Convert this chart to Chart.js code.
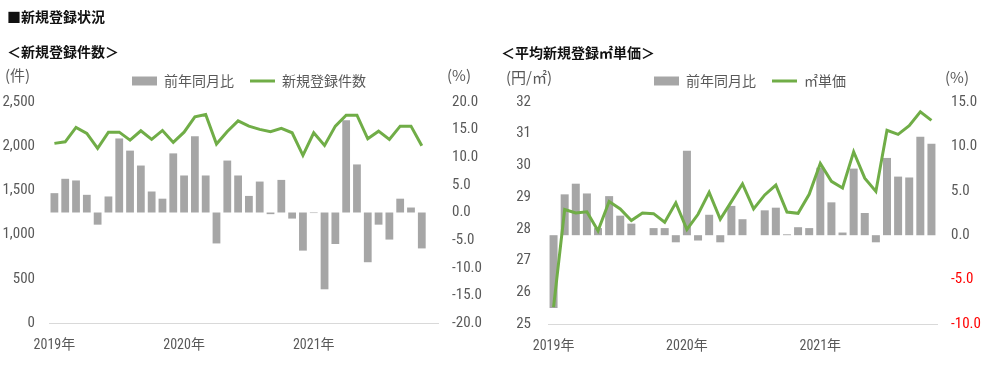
<!DOCTYPE html>
<html lang="ja">
<head>
<meta charset="utf-8">
<title>新規登録状況</title>
<script src="https://cdn.jsdelivr.net/npm/chart.js@4.4.1/dist/chart.umd.min.js"></script>
<style>
  html, body { margin: 0; padding: 0; background: #fff; }
  body {
    position: relative;
    width: 989px;
    height: 366px;
    overflow: hidden;
    font-family: 'Noto Sans CJK JP', sans-serif;
  }
  canvas { position: absolute; top: 0; }
  #countChart { left: 0; }
  #priceChart { left: 495px; }
  .txt { position: absolute; white-space: nowrap; line-height: 18px; z-index: 2; }
  .head { font-size: 14px; font-weight: bold; color: #111; }
  .unit { font-size: 15px; color: #595959; }
</style>
</head>
<body>
<div class="txt head" style="left:7px; top:7px;">■新規登録状況</div>
<div class="txt head" style="left:7px; top:42px;">＜新規登録件数＞</div>
<div class="txt head" style="left:501px; top:43px;">＜平均新規登録㎡単価＞</div>
<div class="txt unit" style="left:5px; top:66px;">(件)</div>
<div class="txt unit" style="left:447px; top:66px;">(%)</div>
<div class="txt unit" style="left:506px; top:68px;">(円/㎡)</div>
<div class="txt unit" style="left:945px; top:68px;">(%)</div>

<canvas id="countChart" width="498" height="366"></canvas>
<canvas id="priceChart" width="510" height="366"></canvas>

<script>
// months, Jan 2019 - Dec 2021 (the price chart stops at Nov 2021)
const months = [
    '2019/01', '2019/02', '2019/03', '2019/04', '2019/05', '2019/06',
    '2019/07', '2019/08', '2019/09', '2019/10', '2019/11', '2019/12',
    '2020/01', '2020/02', '2020/03', '2020/04', '2020/05', '2020/06',
    '2020/07', '2020/08', '2020/09', '2020/10', '2020/11', '2020/12',
    '2021/01', '2021/02', '2021/03', '2021/04', '2021/05', '2021/06',
    '2021/07', '2021/08', '2021/09', '2021/10', '2021/11', '2021/12',
];
const priceMonths = months.slice(0, 35);

// 新規登録件数 (件)
const countTotal = [
    2032, 2050, 2212, 2144, 1975, 2159, 2159, 2069, 2174, 2077, 2178, 2043,
    2159, 2332, 2359, 2024, 2167, 2287, 2227, 2190, 2163, 2201, 2152, 1896,
    2152, 2009, 2227, 2351, 2351, 2084, 2170, 2077, 2227, 2227, 2005, null,
];
// 前年同月比 (%)
const countYoY = [
    3.5, 6.1, 5.8, 3.2, -2.2, 2.9, 13.4, 11.2, 8.5, 3.8, 2.5, 10.7,
    6.7, 13.8, 6.7, -5.6, 9.4, 6.7, 3.0, 5.6, -0.3, 5.9, -1.1, -6.9,
    -0.1, -13.9, -5.7, 16.7, 8.7, -9.0, -2.2, -4.9, 2.5, 0.9, -6.5, null,
];

// 平均新規登録㎡単価 (円/㎡)
const unitPrice = [
    25.53, 28.61, 28.50, 28.54, 27.94, 28.86, 28.63, 28.26, 28.50, 28.48, 28.21, 28.82,
    27.98, 28.46, 29.15, 28.30, 28.86, 29.42, 28.63, 29.07, 29.38, 28.53, 28.49, 29.09,
    30.06, 29.50, 29.29, 30.43, 29.60, 29.18, 31.11, 30.98, 31.25, 31.69, 31.42,
];
// 前年同月比 (%)
const priceYoY = [
    -8.2, 4.6, 5.8, 4.7, 0.8, 4.4, 2.2, 1.3, 0, 0.8, 0.8, -0.8,
    9.5, -0.6, 2.3, -0.8, 3.3, 1.8, 0, 2.8, 3.1, 0.1, 0.9, 0.8,
    7.6, 3.7, 0.3, 7.5, 2.5, -0.8, 8.7, 6.6, 6.5, 11.1, 10.3,
];

const GREEN = '#70ad47';
const BAR_GRAY = '#a6a6a6';
const TEXT_GRAY = '#595959';
const AXIS_LINE = '#d9d9d9';
const NUM_FONT = "'Liberation Sans Narrow', 'Roboto Condensed', 'Noto Sans CJK JP', sans-serif";

// leave a few more pixels between the legend row and the plot
const legendGap = {
    id: 'legendGap',
    afterInit(chart) {
        const fit = chart.legend.fit;
        chart.legend.fit = function () {
            fit.call(this);
            this.height += 4;
        };
    },
};

function yearTick(value) {
    const m = this.getLabelForValue(value);
    return m.endsWith('/01') ? m.slice(0, 4) + '年' : '';
}

function legendLabels(chart) {
    const items = Chart.defaults.plugins.legend.labels.generateLabels(chart);
    items.forEach(item => {
        const ds = chart.data.datasets[item.datasetIndex];
        const isLine = ds.type === 'line';
        item.pointStyle = isLine ? 'line' : 'rect';
        item.lineWidth = isLine ? 3 : 0;
        item.strokeStyle = isLine ? ds.borderColor : ds.backgroundColor;
        item.fillStyle = isLine ? ds.borderColor : ds.backgroundColor;
    });
    return items.sort((a, b) => a.datasetIndex - b.datasetIndex);
}

function buildChart(canvas, cfg) {
    return new Chart(canvas, {
        type: 'bar',
        data: {
            labels: cfg.labels,
            datasets: [
                {
                    type: 'bar',
                    label: '前年同月比',
                    data: cfg.bars,
                    yAxisID: 'y2',
                    backgroundColor: BAR_GRAY,
                    borderWidth: 0,
                    categoryPercentage: 0.72,
                    barPercentage: 1,
                    order: 2,
                },
                {
                    type: 'line',
                    label: cfg.lineLabel,
                    data: cfg.line,
                    yAxisID: 'y',
                    borderColor: GREEN,
                    backgroundColor: GREEN,
                    borderWidth: 3,
                    pointRadius: 0,
                    tension: 0,
                    order: 1,
                },
            ],
        },
        plugins: [legendGap],
        options: {
            responsive: false,
            animation: false,
            events: [],
            layout: { padding: { top: 58, left: 0, right: 0, bottom: 0 } },
            plugins: {
                tooltip: { enabled: false },
                legend: {
                    position: 'top',
                    labels: {
                        usePointStyle: true,
                        pointStyleWidth: 25,
                        boxWidth: 25,
                        boxHeight: 9,
                        padding: 16,
                        color: TEXT_GRAY,
                        font: { family: "'Noto Sans CJK JP', sans-serif", size: 14 },
                        generateLabels: legendLabels,
                    },
                },
            },
            scales: {
                x: {
                    grid: { display: false, drawTicks: false },
                    border: { display: true, color: AXIS_LINE, width: 1 },
                    ticks: {
                        autoSkip: false,
                        maxRotation: 0,
                        padding: 14,
                        color: TEXT_GRAY,
                        font: { family: NUM_FONT, size: 14 },
                        callback: yearTick,
                    },
                    afterFit(scale) { scale.height = cfg.xHeight; },
                },
                y: {
                    position: 'left',
                    min: cfg.yMin,
                    max: cfg.yMax,
                    grid: { display: false, drawTicks: false },
                    border: { display: false },
                    ticks: {
                        stepSize: cfg.yStep,
                        padding: cfg.yPad,
                        color: TEXT_GRAY,
                        font: { family: NUM_FONT, size: 15 },
                        callback: v => v.toLocaleString('en-US'),
                    },
                    afterFit(scale) { scale.width = cfg.yWidth; },
                },
                y2: {
                    position: 'right',
                    min: cfg.y2Min,
                    max: cfg.y2Max,
                    grid: { display: false, drawTicks: false },
                    border: { display: false },
                    ticks: {
                        stepSize: 5,
                        padding: 14,
                        color: cfg.y2Color,
                        font: { family: NUM_FONT, size: 15 },
                        callback: v => v.toFixed(1),
                    },
                    afterFit(scale) { scale.width = cfg.y2Width; },
                },
            },
        },
    });
}

buildChart(document.getElementById('countChart'), {
    labels: months,
    bars: countYoY,
    line: countTotal,
    lineLabel: '新規登録件数',
    yMin: 0, yMax: 2500, yStep: 500, yPad: 14,
    y2Min: -20, y2Max: 20,
    y2Color: TEXT_GRAY,
    yWidth: 49, y2Width: 60, xHeight: 43,
});

buildChart(document.getElementById('priceChart'), {
    labels: priceMonths,
    bars: priceYoY,
    line: unitPrice,
    lineLabel: '㎡単価',
    yMin: 25, yMax: 32, yStep: 1, yPad: 17,
    y2Min: -10, y2Max: 15,
    y2Color: ctx => (ctx.tick && ctx.tick.value < 0 ? '#ff0000' : TEXT_GRAY),
    yWidth: 53, y2Width: 68, xHeight: 42,
});
</script>
</body>
</html>
